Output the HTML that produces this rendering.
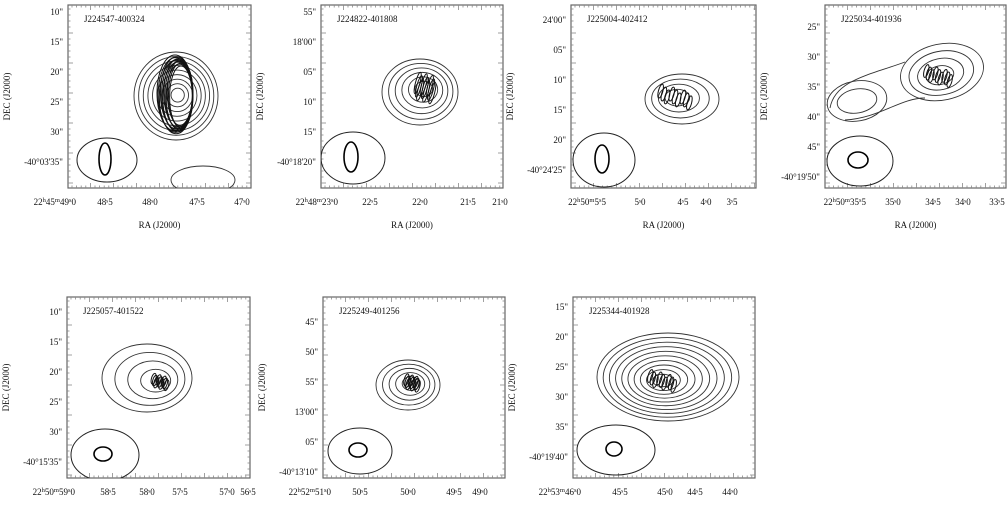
<!DOCTYPE html>
<html><head><meta charset="utf-8">
<style>
body{margin:0;background:#fff;}
svg text{font-family:"Liberation Serif",serif;font-size:9px;fill:#111;}
</style></head>
<body>
<svg id="fig" width="1008" height="510" viewBox="0 0 1008 510"></svg>
<script>
// panel frames [left, top, right, bottom]
const frames=[[68,5,251,188],[321,5,503,188],[571,5,756,188],[825,5,1006,188],[67,297,250,478],[323,297,505,478],[573,297,755,478]];
const titles=["J224547-400324","J224822-401808","J225004-402412","J225034-401936","J225057-401522","J225249-401256","J225344-401928"];
const yLabels=[["10\"","15\"","20\"","25\"","30\"","-40°03'35\""],["55\"","18'00\"","05\"","10\"","15\"","-40°18'20\""],["24'00\"","05\"","10\"","15\"","20\"","-40°24'25\""],["25\"","30\"","35\"","40\"","45\"","-40°19'50\""],["10\"","15\"","20\"","25\"","30\"","-40°15'35\""],["45\"","50\"","55\"","13'00\"","05\"","-40°13'10\""],["15\"","20\"","25\"","30\"","35\"","-40°19'40\""]];
const yLabelPos=[[12,42,72,102,132,162],[12,42,72,102,132,162],[20,50,80,110,140,170],[27,57,87,117,147,177],[312,342,372,402,432,462],[322,352,382,412,442,472],[307,337,367,397,427,457]];
const xPrefix=[["22","45","49"],["22","48","23"],["22","50","5"],["22","50","35"],["22","50","59"],["22","52","51"],["22","53","46"]];
const xLabels=[["0","48ˢ5","48ˢ0","47ˢ5","47ˢ0"],["0","22ˢ5","22ˢ0","21ˢ5","21ˢ0"],["5","5ˢ0","4ˢ5","4ˢ0","3ˢ5"],["5","35ˢ0","34ˢ5","34ˢ0","33ˢ5"],["0","58ˢ5","58ˢ0","57ˢ5","57ˢ0","56ˢ5"],["0","50ˢ5","50ˢ0","49ˢ5","49ˢ0"],["0","45ˢ5","45ˢ0","44ˢ5","44ˢ0"]];
const xLabelPos=[[68,105,150,197,242],[330,370,420,468,500],[598,640,683,706,732],[858,893,933,963,997],[67,108,147,180,227,248],[323,360,408,454,480],[573,620,665,695,730]];
// contour sets: centre x, centre y, outer rx, outer ry, ring count, rotation
const contourCx=[176,420,682,942,147,408,668];
const contourCy=[96,92,99,72,378,385,377];
const contourRx=[42,38,37,42,45,32,71];
const contourRy=[44,33,25,28,34,25,44];
const contourRings=[9,6,4,4,4,5,10];
const contourRot=[0,0,0,-12,0,0,0];
// dense maser-like clusters: x, y, rx, ry
const clusterX=[178,425,675,938,160,412,662];
const clusterY=[95,88,97,76,382,383,381];
const clusterRx=[18,12,22,18,10,9,18];
const clusterRy=[38,20,13,12,10,11,12];
// beams
const beamX=[107,353,604,860,105,360,616];
const beamY=[160,158,160,161,455,451,450];
const beamRx=[30,32,31,33,34,32,39];
const beamRy=[22,26,27,25,26,23,25];
const beamIx=[6,7,7,10,9,9,8];
const beamIy=[16,15,14,8,7,7,7];

const svg=document.getElementById('fig');
const NS="http://www.w3.org/2000/svg";
function mk(t,a,parent){const e=document.createElementNS(NS,t);for(const k in a)e.setAttribute(k,a[k]);(parent||svg).appendChild(e);return e;}
function sup(parent,txt){const s=mk('tspan',{dy:-3,'font-size':6.5},parent);s.textContent=txt;const r=mk('tspan',{dy:3},parent);return r;}

frames.forEach((f,i)=>{
  const [l,t,r,b]=f;
  const g=mk('g',{});
  
  
  const clipId='c'+i;
  const cp=mk('clipPath',{id:clipId},g);mk('rect',{x:l,y:t,width:r-l,height:b-t},cp);
  const fr=mk('rect',{x:l,y:t,width:r-l,height:b-t,fill:'none',stroke:'#666','stroke-width':1.2},g);
  
  
  for(let x=l+4;x<r;x+=4.6){const len=(Math.round((x-l)/4.6)%5===0)?5:2.5;
    mk('line',{x1:x,y1:t,x2:x,y2:t+len,stroke:'#888','stroke-width':0.8},g);
    mk('line',{x1:x,y1:b,x2:x,y2:b-len,stroke:'#888','stroke-width':0.8},g);}
  for(let y=t+4;y<b;y+=6){const len=(Math.round((y-t)/6)%5===0)?5:2.5;
    mk('line',{x1:l,y1:y,x2:l+len,y2:y,stroke:'#888','stroke-width':0.8},g);
    mk('line',{x1:r,y1:y,x2:r-len,y2:y,stroke:'#888','stroke-width':0.8},g);}
  const tt=mk('text',{x:l+16,y:t+17,'font-size':8.5},g);tt.textContent=titles[i];
  
  
  yLabels[i].forEach((s,k)=>{const e=mk('text',{x:l-5,y:yLabelPos[i][k]+3,'text-anchor':'end','font-size':8.5},g);e.textContent=s;
    
    });
  xLabels[i].forEach((s,k)=>{const x=xLabelPos[i][k];
    const e=mk('text',{x:k===0?x+8:x,y:b+17,'text-anchor':k===0?'end':'middle','font-size':8.5},g);
    if(k===0){const p=xPrefix[i];const a=mk('tspan',{},e);a.textContent=p[0];
      sup(e,'h').textContent=p[1];sup(e,'m').textContent=p[2];sup(e,'s').textContent=s;}
    else e.textContent=s;
    
    });
  const cy=(t+b)/2, ax=l-58;
  const dt=mk('text',{x:ax,y:cy,'text-anchor':'middle',transform:`rotate(-90 ${ax} ${cy})`,'font-size':8.5},g);dt.textContent='DEC (J2000)';
  
  
  const rt=mk('text',{x:(l+r)/2,y:b+40,'text-anchor':'middle','font-size':8.5},g);rt.textContent='RA (J2000)';
  
  
  const cg=mk('g',{'clip-path':`url(#${clipId})`},g);
  const n=contourRings[i];
  for(let k=0;k<n;k++){const s=1-k/(n+0.5);
    const e=mk('ellipse',{cx:contourCx[i]+(1-s)*(clusterX[i]-contourCx[i]),cy:contourCy[i]+(1-s)*(clusterY[i]-contourCy[i]),rx:contourRx[i]*s,ry:contourRy[i]*s,fill:'none',stroke:'#333','stroke-width':0.9,transform:`rotate(${contourRot[i]} ${contourCx[i]} ${contourCy[i]})`},cg);
    
    }
  if(i===3){
    [[30,20],[20,12]].forEach(d=>{const e=mk('ellipse',{cx:857,cy:101,rx:d[0],ry:d[1],fill:'none',stroke:'#333','stroke-width':0.9,transform:'rotate(-10 857 101)'},cg);
    
    });
    const br=mk('path',{d:'M 830 108 C 835 80 870 75 905 62 M 845 120 C 880 118 900 98 925 98',fill:'none',stroke:'#333','stroke-width':0.9},cg);
    
    }
  if(i===0){const e=mk('ellipse',{cx:203,cy:180,rx:32,ry:14,fill:'none',stroke:'#333','stroke-width':0.9},cg);
    
    }
  const nc=i===0?12:9;
  for(let k=0;k<nc;k++){const fx=(k/(nc-1)-0.5)*2;
    let a;
    if(i===0) a={cx:clusterX[i]+fx*3,cy:clusterY[i]+((k%3)-1)*2,rx:clusterRx[i]*(1-k/nc*0.4),ry:clusterRy[i]*(1-k/nc*0.2)};
    else a={cx:clusterX[i]+fx*clusterRx[i]*0.7,cy:clusterY[i]+((k%3)-1)*clusterRy[i]*0.15,rx:2.2,ry:clusterRy[i]*0.55};
    const e=mk('ellipse',Object.assign(a,{fill:'none',stroke:'#111','stroke-width':1,transform:`rotate(${i===0?0:15} ${clusterX[i]} ${clusterY[i]})`}),cg);
    
    }
  const b1=mk('ellipse',{cx:beamX[i],cy:beamY[i],rx:beamRx[i],ry:beamRy[i],fill:'none',stroke:'#222','stroke-width':1},cg);
  
  
  const b2=mk('ellipse',{cx:beamX[i]-2,cy:beamY[i]-1,rx:beamIx[i],ry:beamIy[i],fill:'none',stroke:'#000','stroke-width':1.6},cg);
  
  
});
</script>
</body></html>
